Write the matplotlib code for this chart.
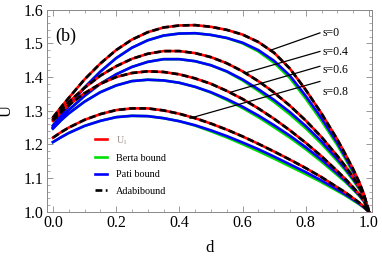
import matplotlib
matplotlib.use("Agg")
import matplotlib.pyplot as plt
from matplotlib.ticker import MultipleLocator

plt.rcParams['font.family'] = ['Liberation Serif', 'DejaVu Serif']
plt.rcParams['mathtext.fontset'] = 'custom'
plt.rcParams['mathtext.rm'] = 'Liberation Serif'
plt.rcParams['mathtext.it'] = 'Liberation Serif:italic'

# sampled d values
d = [0, 0.025, 0.05, 0.1, 0.15, 0.2, 0.25, 0.3, 0.35, 0.4, 0.45, 0.5, 0.55,
     0.6, 0.65, 0.7, 0.75, 0.8, 0.85, 0.9, 0.925, 0.95, 0.97, 0.985, 1.0]

s_labels = ["s=0", "s=0.4", "s=0.6", "s=0.8"]

# U_l (identical to Adabi bound)
adabi_s0 = [1.280, 1.310, 1.338, 1.393, 1.440, 1.480, 1.511, 1.533, 1.547, 1.553, 1.554, 1.549, 1.540,
            1.526, 1.504, 1.472, 1.425, 1.362, 1.292, 1.215, 1.172, 1.127, 1.087, 1.050, 1.0]
adabi_s04 = [1.275, 1.302, 1.326, 1.368, 1.404, 1.432, 1.454, 1.469, 1.477, 1.477, 1.471, 1.459, 1.441,
             1.417, 1.388, 1.354, 1.315, 1.271, 1.222, 1.166, 1.136, 1.103, 1.073, 1.046, 1.0]
adabi_s06 = [1.270, 1.295, 1.317, 1.352, 1.380, 1.400, 1.412, 1.417, 1.415, 1.408, 1.396, 1.380, 1.359,
             1.335, 1.307, 1.276, 1.242, 1.205, 1.165, 1.121, 1.098, 1.073, 1.052, 1.033, 1.0]
adabi_s08 = [1.220, 1.236, 1.250, 1.273, 1.290, 1.302, 1.307, 1.307, 1.301, 1.291, 1.278, 1.262, 1.244,
             1.224, 1.202, 1.179, 1.155, 1.130, 1.103, 1.073, 1.058, 1.041, 1.027, 1.015, 1.0]

# Pati bound
pati_s0 = [1.256, 1.286, 1.314, 1.369, 1.416, 1.456, 1.487, 1.509, 1.523, 1.529, 1.530, 1.525, 1.516,
           1.502, 1.480, 1.448, 1.404, 1.344, 1.278, 1.205, 1.164, 1.121, 1.083, 1.048, 1.0]
pati_s04 = [1.251, 1.278, 1.302, 1.344, 1.380, 1.408, 1.430, 1.445, 1.453, 1.453, 1.447, 1.435, 1.417,
            1.393, 1.364, 1.332, 1.296, 1.255, 1.209, 1.157, 1.129, 1.098, 1.070, 1.044, 1.0]
pati_s06 = [1.247, 1.271, 1.292, 1.327, 1.355, 1.375, 1.388, 1.392, 1.390, 1.383, 1.371, 1.355, 1.335,
            1.312, 1.286, 1.257, 1.226, 1.192, 1.155, 1.114, 1.093, 1.069, 1.049, 1.031, 1.0]
pati_s08 = [1.207, 1.221, 1.234, 1.255, 1.270, 1.281, 1.285, 1.284, 1.278, 1.269, 1.257, 1.242, 1.225,
            1.206, 1.186, 1.164, 1.141, 1.118, 1.093, 1.066, 1.052, 1.037, 1.024, 1.013, 1.0]

# Berta bound
berta_s0 = [1.256, 1.286, 1.314, 1.369, 1.416, 1.456, 1.487, 1.509, 1.523, 1.529, 1.530, 1.525, 1.516,
            1.500, 1.476, 1.442, 1.397, 1.336, 1.270, 1.198, 1.158, 1.116, 1.080, 1.046, 1.0]
berta_s04 = [1.251, 1.278, 1.302, 1.344, 1.380, 1.408, 1.430, 1.445, 1.453, 1.453, 1.447, 1.435, 1.416,
             1.390, 1.359, 1.326, 1.289, 1.248, 1.202, 1.151, 1.124, 1.094, 1.067, 1.042, 1.0]
berta_s06 = [1.247, 1.271, 1.292, 1.327, 1.355, 1.375, 1.388, 1.392, 1.390, 1.383, 1.371, 1.354, 1.332,
             1.308, 1.281, 1.251, 1.220, 1.186, 1.149, 1.109, 1.089, 1.066, 1.047, 1.030, 1.0]
berta_s08 = [1.207, 1.221, 1.234, 1.255, 1.270, 1.281, 1.285, 1.284, 1.278, 1.269, 1.256, 1.239, 1.221,
             1.201, 1.180, 1.158, 1.135, 1.112, 1.088, 1.062, 1.049, 1.034, 1.022, 1.012, 1.0]

adabi = [adabi_s0, adabi_s04, adabi_s06, adabi_s08]
pati = [pati_s0, pati_s04, pati_s06, pati_s08]
berta = [berta_s0, berta_s04, berta_s06, berta_s08]

fig = plt.figure(figsize=(3.82, 2.60), dpi=100)
ax = fig.add_axes([0.122, 0.185, 0.852, 0.778])

lw = 1.9
for i in range(4):
    ax.plot(d, berta[i], color='#00e000', lw=lw, label='Berta bound' if i == 0 else None, zorder=2)
    ax.plot(d, pati[i], color='#0000ff', lw=lw, label='Pati bound' if i == 0 else None, zorder=3)
    ax.plot(d, adabi[i], color='#ff0000', lw=lw, label=r'$\mathregular{U_l}$' if i == 0 else None, zorder=4)
    ax.plot(d, adabi[i], color='black', lw=lw, dashes=(2.6, 1.3),
            label='Adabibound' if i == 0 else None, zorder=5)

# pointer lines for the s labels
starts = [(0.687, 1.479), (0.608, 1.412), (0.566, 1.356), (0.434, 1.278)]
ends = [(0.845, 1.531), (0.845, 1.476), (0.845, 1.432), (0.845, 1.387)]
text_y = [1.531, 1.474, 1.422, 1.357]
for lab, (x0, y0), (x1, y1), ty in zip(s_labels, starts, ends, text_y):
    ax.plot([x0, x1], [y0, y1], color='black', lw=0.9, zorder=6)
    ax.text(0.853, ty, lab, fontsize=8.5, va='center', ha='left')

ax.text(0.008, 1.522, '(b)', fontsize=13, va='center')

ax.set_xlim(-0.02, 1.01)
ax.set_ylim(1.0, 1.6)
ax.xaxis.set_major_locator(MultipleLocator(0.2))
ax.xaxis.set_minor_locator(MultipleLocator(0.05))
ax.yaxis.set_major_locator(MultipleLocator(0.1))
ax.yaxis.set_minor_locator(MultipleLocator(0.02))
ax.xaxis.set_major_formatter(lambda v, p: f"{v:.1f}")
ax.yaxis.set_major_formatter(lambda v, p: f"{v:.1f}")
ax.tick_params(which='both', direction='in', top=True, right=True, color='#888888',
               labelsize=11.5, pad=2.5)
ax.tick_params(which='major', length=4, width=0.6)
ax.tick_params(which='minor', length=2, width=0.5)
for sp in ax.spines.values():
    sp.set_color('#888888')
    sp.set_linewidth(0.7)

ax.set_xlabel('d', fontsize=12, labelpad=6)
ax.set_ylabel('U', fontsize=12, labelpad=6)

handles, labels = ax.get_legend_handles_labels()
order = [labels.index(l) for l in [r'$\mathregular{U_l}$', 'Berta bound', 'Pati bound', 'Adabibound']]
leg = ax.legend([handles[k] for k in order], [labels[k] for k in order],
                loc='upper left', bbox_to_anchor=(0.148, 0.385), frameon=False,
                fontsize=7.3, handlelength=1.2, handletextpad=0.9, labelspacing=0.72,
                borderaxespad=0, borderpad=0)
leg.get_texts()[0].set_color('#a09090')

fig.savefig('out.png', dpi=100)
